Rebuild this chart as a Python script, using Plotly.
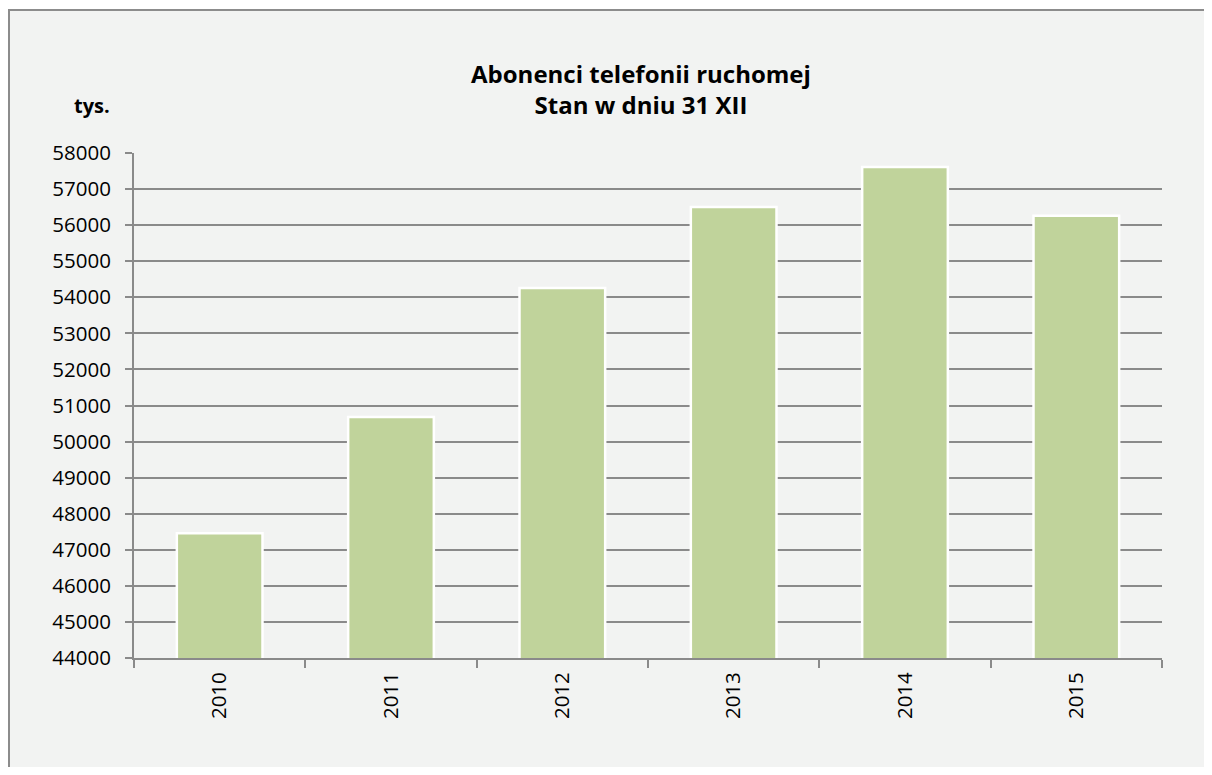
import plotly.graph_objects as go

years = ["2010", "2011", "2012", "2013", "2014", "2015"]
subscribers = [47460, 50680, 54260, 56500, 57610, 56260]
y_ticks = list(range(44000, 58001, 1000))

FONT = "'Open Sans', Lato, sans-serif"
GRID = "#8a8a8a"

fig = go.Figure(go.Bar(
    x=years,
    y=subscribers,
    marker=dict(color="#c0d39b", line=dict(color="#ffffff", width=2.5)),
    width=0.5,
    hoverinfo="x+y",
))

# chart area background with border (runs past the right/bottom edge)
fig.add_shape(type="rect", xref="paper", yref="paper",
              x0=-0.1216, x1=1.2, y0=-0.4, y1=1.283,
              fillcolor="#f2f3f2", line=dict(color="#8c8c8c", width=2),
              layer="below")

fig.add_annotation(text="<b>Abonenci telefonii ruchomej<br>Stan w dniu 31 XII</b>",
                   xref="paper", yref="paper", x=0.4932, y=1.1267,
                   xanchor="center", yanchor="middle", showarrow=False,
                   font=dict(family=FONT, size=24, color="#000000"))
fig.add_annotation(text="<b>tys.</b>", xref="paper", yref="paper",
                   x=-0.0214, y=1.095, xanchor="right", yanchor="middle",
                   showarrow=False, font=dict(family=FONT, size=20, color="#000000"))

fig.update_layout(
    width=1196, height=759,
    margin=dict(l=126, r=42, t=145, b=109),
    paper_bgcolor="#ffffff",
    plot_bgcolor="rgba(0,0,0,0)",
    showlegend=False,
    font=dict(family=FONT, size=20.5, color="#000000"),
)
fig.update_yaxes(range=[44000, 58000], tickvals=y_ticks, ticktext=[str(v) for v in y_ticks],
                 showgrid=True, gridcolor=GRID, gridwidth=1.5,
                 showline=True, linecolor=GRID, linewidth=2,
                 ticks="outside", ticklen=7, tickcolor=GRID, tickwidth=1.5,
                 zeroline=False, ticklabelstandoff=10)
fig.update_xaxes(showgrid=False, showline=True, linecolor=GRID, linewidth=2,
                 ticks="outside", ticklen=8, tickcolor=GRID, tickwidth=1.5,
                 tickson="boundaries", tickangle=-90, ticklabelstandoff=4)

fig.write_html("out.html")
